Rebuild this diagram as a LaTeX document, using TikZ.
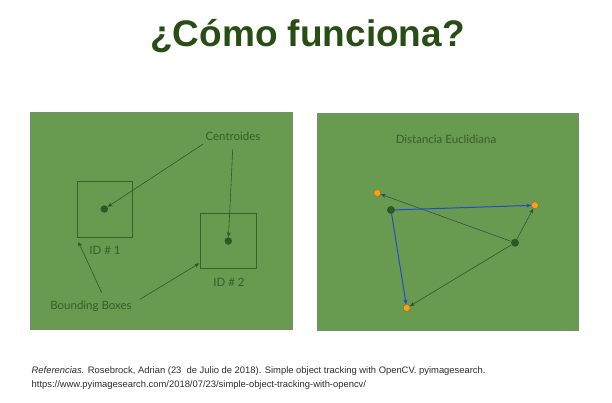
\documentclass[tikz,border=0pt]{standalone}
\usepackage{fontspec}
\setmainfont{Liberation Sans}
\newfontfamily\latofont{Lato}
\usetikzlibrary{arrows.meta}
\definecolor{panelgreen}{RGB}{104,155,80}
\definecolor{panelborder}{RGB}{120,140,110}
\definecolor{titlegreen}{RGB}{40,78,22}
\definecolor{labelgreen}{RGB}{50,86,36}
\definecolor{dotgreen}{RGB}{46,88,40}
\definecolor{dotorange}{RGB}{250,160,20}
\definecolor{linkblue}{RGB}{40,70,210}
\definecolor{linkslate}{RGB}{50,80,80}
\definecolor{reftext}{RGB}{45,45,45}
\tikzset{
  panel/.style={fill=panelgreen, draw=panelborder, line width=0.6pt},
  bbox/.style={draw=labelgreen!85!panelgreen, line width=0.6pt, inner sep=0pt},
  centroid/.style={circle, fill=dotgreen, inner sep=0pt, minimum size=7.5pt},
  target/.style={circle, fill=dotorange, draw=dotgreen!60!orange, line width=0.3pt, inner sep=0pt, minimum size=7pt},
  lbl/.style={font=\latofont\fontsize{11.5}{13}\selectfont, text=labelgreen!90!panelgreen, inner sep=1pt},
  pointer/.style={draw=labelgreen, line width=0.6pt, -{Stealth[length=5pt,width=4pt]}},
  nearlink/.style={draw=linkblue, line width=1pt, -{Stealth[length=5pt,width=4pt]}},
  farlink/.style={draw=linkslate, line width=0.6pt, -{Stealth[length=5pt,width=4pt]}},
  reftxt/.style={anchor=west, font=\fontsize{9.4}{11}\selectfont, text=reftext, inner sep=0pt},
}
\begin{document}
\begin{tikzpicture}[x=1pt, y=-1pt]
\useasboundingbox[fill=white] (0,0) rectangle (612,402);

% title
\node[anchor=base, font=\bfseries\fontsize{37}{40}\selectfont, text=titlegreen] (title) at (307.5,46.7) {¿Cómo funciona?};

% left panel: bounding boxes and centroids
\draw[panel] (30,112) rectangle (292,329);
\node[bbox, minimum width=55pt, minimum height=56pt] (box1) at (104.5,209) {};
\node[bbox, minimum width=56pt, minimum height=55pt] (box2) at (228.7,240.8) {};
\node[centroid] (c1) at (104.3,209) {};
\node[centroid] (c2) at (228.3,241) {};
\node[lbl] (id1) at (105,250) {ID \# 1};
\node[lbl] (id2) at (229,282) {ID \# 2};
\node[lbl] (cent) at (233,136) {Centroides};
\node[lbl] (bb) at (91,306) {Bounding Boxes};
\coordinate (centA) at (202.7,144.3);
\coordinate (centB) at (232.7,149.3);
\coordinate (bbA) at (101.7,292.7);
\coordinate (bbB) at (140,299.3);
\coordinate (box1tip) at (78.3,241.7);
\coordinate (box2tip) at (199.3,263.3);
\draw[pointer] (centA) -- (c1);
\draw[pointer] (centB) -- (c2);
\draw[pointer] (bbA) -- (box1tip);
\draw[pointer] (bbB) -- (box2tip);

% right panel: euclidean distances
\draw[panel] (317,113) rectangle (578,330);
\node[lbl] (dist) at (446,139.5) {Distancia Euclidiana};
\node[target] (o1) at (377.3,193) {};
\node[target] (o2) at (535,205.3) {};
\node[target] (o3) at (406.7,308) {};
\node[centroid, minimum size=8pt] (g1) at (391,210) {};
\node[centroid, minimum size=8pt] (g2) at (515,242.7) {};
\draw[farlink] (g2) -- (o1);
\draw[farlink] (g2) -- (o2);
\draw[pointer] (g2) -- (o3);
\draw[nearlink] (g1) -- (o2);
\draw[nearlink] (g1) -- (o3);

% reference
\node[reftxt] (ref1) at (31.5,371.5) {\textit{Referencias.} Rosebrock, Adrian (23\ \ de Julio de 2018). Simple object tracking with OpenCV. pyimagesearch.};
\node[reftxt] (ref2) at (31.5,385) {https://www.pyimagesearch.com/2018/07/23/simple-object-tracking-with-opencv/};
\end{tikzpicture}
\end{document}
